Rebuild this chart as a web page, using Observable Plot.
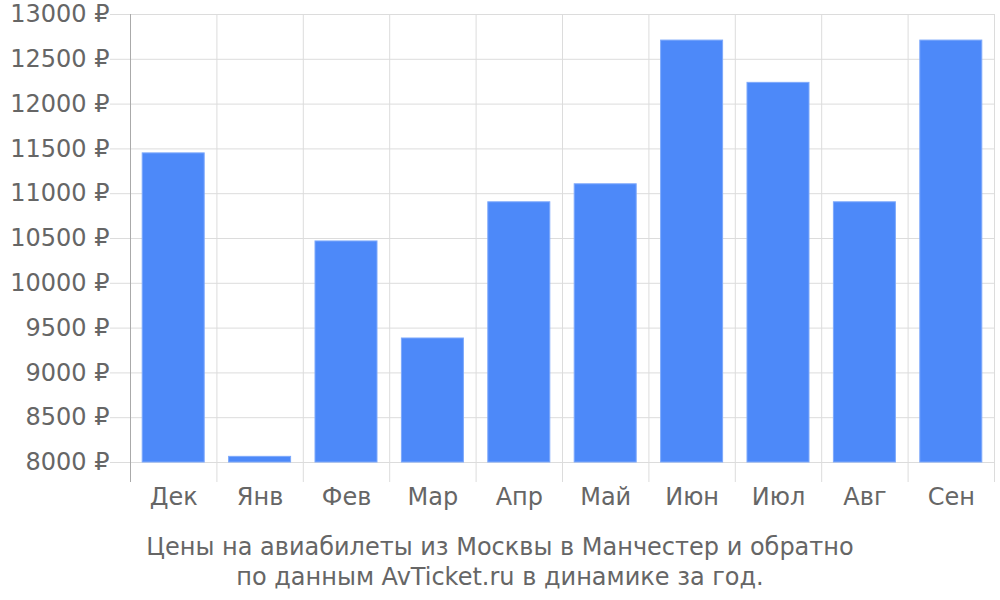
<!DOCTYPE html>
<html>
<head>
<meta charset="utf-8">
<script src="https://cdn.jsdelivr.net/npm/d3@7"></script>
<script src="https://cdn.jsdelivr.net/npm/@observablehq/plot@0.6"></script>
<style>
  html, body { margin: 0; padding: 0; background: #fff; }
  #chart { width: 1000px; }
  #caption {
    width: 1000px;
    text-align: center;
    font-family: "DejaVu Sans", sans-serif;
    font-size: 24px;
    line-height: 30px;
    color: #666;
    padding-top: 2px;
  }
</style>
</head>
<body>
<div id="chart"></div>
<div id="caption">Цены на авиабилеты из Москвы в Манчестер и обратно<br>по данным AvTicket.ru в динамике за год.</div>
<script>
const months = ["Дек", "Янв", "Фев", "Мар", "Апр", "Май", "Июн", "Июл", "Авг", "Сен"];
const prices = [11450, 8063, 10467, 9384, 10904, 11105, 12709, 12237, 10904, 12709];
const yTicks = [8000, 8500, 9000, 9500, 10000, 10500, 11000, 11500, 12000, 12500, 13000];
const currency = "₽";

const data = months.map((m, i) => ({i, month: m, price: prices[i]}));
const boundaries = d3.range(months.length + 1);
const centers = months.map((m, i) => i + 0.5);
const baseline = yTicks[0];

const gridColor = "#dcdcdc";
const axisColor = "#aaaaaa";
const textColor = "#666";

const chart = Plot.plot({
  width: 1000,
  height: 530,
  marginTop: 14,
  marginBottom: 68,
  marginLeft: 130,
  marginRight: 6,
  style: {fontFamily: "DejaVu Sans, sans-serif", fontSize: "24px", color: textColor, background: "#fff"},
  x: {type: "linear", domain: [0, months.length], axis: null},
  y: {domain: [yTicks[0], yTicks[yTicks.length - 1]], axis: null},
  marks: [
    Plot.gridY(yTicks, {stroke: gridColor, strokeOpacity: 1}),
    Plot.axisY(yTicks, {tickSize: 20, tickPadding: 1, stroke: gridColor, strokeOpacity: 1, fill: textColor, tickFormat: d => `${d} ${currency}`, label: null}),
    Plot.ruleX(boundaries, {stroke: gridColor, strokeOpacity: 1}),
    Plot.axisX(boundaries, {tickSize: 20, stroke: gridColor, strokeOpacity: 1, tickFormat: () => "", label: null}),
    Plot.rectY(data, {x1: "i", x2: d => d.i + 1, y1: baseline, y2: "price", insetLeft: 12.2, insetRight: 12.2, fill: "#4d89f9", stroke: "#7ea9fb", strokeWidth: 1}),
    Plot.ruleX([0], {stroke: axisColor, strokeOpacity: 1}),
    Plot.axisX([0], {tickSize: 20, stroke: axisColor, strokeOpacity: 1, tickFormat: () => "", label: null}),
    Plot.axisX(centers, {tickSize: 0, tickPadding: 25, fill: textColor, tickFormat: d => months[Math.floor(d)], label: null})
  ]
});
document.getElementById("chart").appendChild(chart);
</script>
</body>
</html>
